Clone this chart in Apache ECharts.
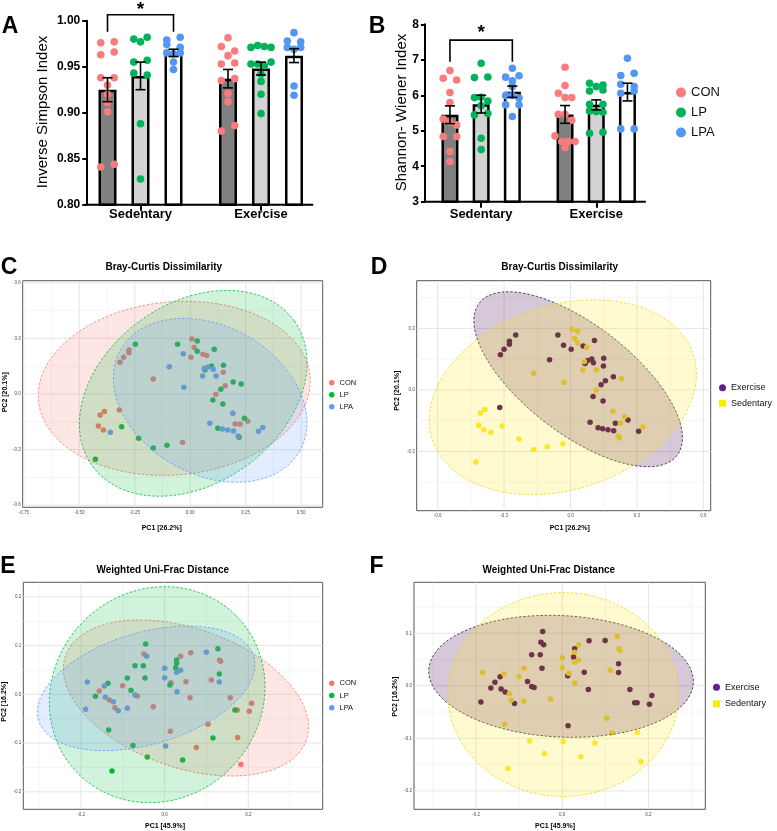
<!DOCTYPE html>
<html><head><meta charset="utf-8">
<script src="https://cdn.jsdelivr.net/npm/echarts@6/dist/echarts.min.js"></script>
<style>html,body{margin:0;padding:0;background:#fff}#c{width:777px;height:831px}</style>
</head><body><div id="c"></div>
<script>
// ================= DATA =================
const groups = ['CON', 'LP', 'LPA'];
const conditions = ['Sedentary', 'Exercise'];
const activities = ['Exercise', 'Sedentary'];

// Panel A - Inverse Simpson index
const simpsonTicks = [0.80, 0.85, 0.90, 0.95, 1.00];
const simpsonMeanSed = [0.925, 0.940, 0.965];
const simpsonMeanEx = [0.937, 0.948, 0.962];
const simpsonSemSed = [0.013, 0.015, 0.004];
const simpsonSemEx = [0.010, 0.007, 0.0075];
const simpsonSedCON = [0.976, 0.977, 0.963, 0.966, 0.938, 0.938, 0.930, 0.920, 0.911, 0.901, 0.841, 0.844];
const simpsonSedLP = [0.980, 0.977, 0.982, 0.955, 0.957, 0.943, 0.941, 0.888, 0.828];
const simpsonSedLPA = [0.979, 0.982, 0.974, 0.971, 0.965, 0.964, 0.965, 0.955, 0.947];
const simpsonExCON = [0.9815, 0.972, 0.967, 0.962, 0.953, 0.954, 0.935, 0.937, 0.921, 0.912, 0.880, 0.886];
const simpsonExLP = [0.971, 0.973, 0.972, 0.971, 0.953, 0.953, 0.951, 0.955, 0.942, 0.934, 0.920, 0.899];
const simpsonExLPA = [0.987, 0.978, 0.977, 0.971, 0.969, 0.971, 0.929, 0.919];

// Panel B - Shannon-Wiener index
const shannonTicks = [3, 4, 5, 6, 7, 8];
const shannonMeanSed = [5.45, 5.75, 6.10];
const shannonMeanEx = [5.46, 5.73, 6.09];
const shannonSemSed = [0.25, 0.25, 0.16];
const shannonSemEx = [0.25, 0.14, 0.25];
const shannonSedCON = [6.695, 6.479, 6.432, 6.075, 5.793, 5.333, 5.239, 5.164, 4.836, 4.836, 4.413, 4.131];
const shannonSedLP = [6.901, 6.498, 6.516, 5.934, 5.944, 5.840, 5.709, 5.446, 5.484, 4.789, 4.469];
const shannonSedLPA = [6.76, 6.51, 6.41, 6.55, 6.25, 5.99, 5.99, 5.92, 5.73, 5.73, 5.40];
const shannonExCON = [6.789, 6.272, 6.056, 5.934, 5.934, 5.465, 5.465, 5.296, 4.854, 4.695, 4.695, 4.695, 4.526];
const shannonExLP = [6.338, 6.244, 6.291, 6.122, 6.150, 5.746, 5.746, 5.559, 5.540, 5.521, 4.930, 4.958];
const shannonExLPA = [7.042, 6.554, 6.620, 6.310, 6.244, 6.056, 6.122, 5.052, 5.052];

// Panels C/D - Bray-Curtis PCoA (same samples, coloured by treatment / activity)
const brayPC1 = [
  0.0075, 0.018, -0.276, -0.276, -0.300, -0.3165, 0.003, 0.057, 0.0735, 0.1485, -0.1665, 0.1575, 0.1155, -0.3195, -0.387, -0.4065, 0.2025, 0.225, 0.2595, -0.414, -0.3915, -0.0345,
  0.0315, -0.057, 0.0315, 0.108, -0.2475, 0.096, 0.150, 0.066, 0.1935, 0.2295, 0.138, 0.102, 0.147, 0.1245, 0.2205, 0.2445, -0.309, -0.2325, -0.1665, -0.105, -0.4275,
  -0.0315, -0.0945, 0.063, 0.078, 0.1035, 0.0555, 0.117, -0.0285, 0.192, 0.0885, 0.1455, 0.1695, 0.195, 0.216, 0.3075, 0.327, -0.36];
const brayPC2 = [
  0.296, 0.251, 0.237, 0.223, 0.198, 0.171, 0.198, 0.214, 0.208, 0.117, 0.081, 0.045, -0.002, -0.086, -0.095, -0.113, -0.162, -0.162, -0.147, -0.172, -0.194, -0.262,
  0.286, 0.268, 0.230, 0.241, 0.268, 0.151, 0.1545, 0.129, 0.0647, 0.054, 0.025, -0.032, -0.054, -0.185, -0.2335, -0.131, -0.176, -0.239, -0.291, -0.2766, -0.352,
  0.2175, 0.147, 0.138, 0.1437, 0.133, 0.097, 0.097, 0.036, -0.104, -0.158, -0.189, -0.194, -0.1994, -0.226, -0.201, -0.181, -0.2066];
const brayGroup = [
  'CON','CON','CON','CON','CON','CON','CON','CON','CON','CON','CON','CON','CON','CON','CON','CON','CON','CON','CON','CON','CON','CON',
  'LP','LP','LP','LP','LP','LP','LP','LP','LP','LP','LP','LP','LP','LP','LP','LP','LP','LP','LP','LP','LP',
  'LPA','LPA','LPA','LPA','LPA','LPA','LPA','LPA','LPA','LPA','LPA','LPA','LPA','LPA','LPA','LPA','LPA'];
const brayActivity = [
  'Sedentary','Sedentary','Exercise','Exercise','Exercise','Exercise','Exercise','Exercise','Sedentary','Exercise','Sedentary','Exercise','Sedentary','Exercise','Sedentary','Sedentary','Exercise','Sedentary','Exercise','Sedentary','Sedentary','Sedentary',
  'Sedentary','Exercise','Sedentary','Exercise','Exercise','Exercise','Exercise','Exercise','Exercise','Sedentary','Exercise','Exercise','Exercise','Exercise','Sedentary','Sedentary','Sedentary','Sedentary','Sedentary','Sedentary','Sedentary',
  'Exercise','Exercise','Sedentary','Exercise','Exercise','Sedentary','Sedentary','Sedentary','Sedentary','Exercise','Exercise','Exercise','Exercise','Sedentary','Exercise','Sedentary','Sedentary'];
// ellipses: [centre x, centre y, semi-axis 1 (dx, dy), semi-axis 2 (dx, dy)] in PC units
const brayEllipseCON = [-0.072, 0.0305, 0.612, 0.065, 0.034, -0.465];
const brayEllipseLP = [0.0135, 0.0036, 0.456, 0.390, 0.2355, -0.395];
const brayEllipseLPA = [0.09, -0.034, 0.405, -0.271, -0.163, -0.349];
const brayEllipseExercise = [0.0345, 0.052, 0.447, -0.371, -0.1485, -0.2106];
const brayEllipseSedentary = [-0.0345, -0.0358, 0.5895, 0.2065, 0.1275, -0.4276];
const brayXTicks = [-0.75, -0.50, -0.25, 0.00, 0.25, 0.50];
const brayYTicks = [-0.6, -0.3, 0.0, 0.3, 0.6];
const brayXTicksD = [-0.6, -0.3, 0.0, 0.3, 0.6];
const brayYTicksD = [-0.3, 0.0, 0.3];

// Panels E/F - Weighted UniFrac PCoA
const unifracPC1 = [
  -0.0494, -0.1004, -0.0653, -0.1562, -0.1323, -0.1187, -0.0271, 0.0151, 0.0382, 0.051, 0.0622, 0.1315, 0.1339, 0.1116, 0.0606, 0.157, 0.0135, 0.0757, 0.1036, 0.1737, 0.1745, 0.2024, 0.208, 0.1825,
  -0.0454, -0.0709, -0.051, -0.0892, -0.047, -0.0805, -0.1355, -0.1657, -0.1339, -0.0757, -0.0414, -0.1259, 0.0127, 0.0287, 0.0287, 0.0263, 0.1275, 0.1307, 0.043, 0.1155, 0.1681,
  -0.043, -0.0709, -0.1442, -0.1849, -0.1888, -0.1418, -0.1227, -0.1108, -0.0892, 0.0, 0.0, 0.0287, 0.0382, 0.0295, 0.0996, 0.1307, 0.0024];
const unifracPC2 = [
  0.0829, 0.0178, -0.0034, 0.0068, -0.0116, -0.0274, -0.0253, 0.024, 0.0781, 0.026, 0.0856, 0.0699, 0.0678, 0.0295, -0.0068, -0.0068, -0.076, -0.1089, -0.0616, -0.0322, -0.0884, -0.0349, -0.0185, -0.1438,
  0.1034, 0.0589, 0.0589, 0.0336, 0.0336, 0.0082, 0.0226, -0.0041, -0.0733, -0.1048, -0.1288, -0.1575, 0.0192, 0.0705, 0.0637, 0.0548, 0.0938, 0.0418, -0.1349, -0.0897, -0.0322,
  0.0781, -0.0014, 0.0171, 0.0253, -0.0308, -0.0062, -0.0151, -0.0336, -0.0288, 0.0534, 0.0342, 0.0452, 0.0493, 0.0055, 0.0863, 0.0253, -0.1062];
const unifracGroup = [
  'CON','CON','CON','CON','CON','CON','CON','CON','CON','CON','CON','CON','CON','CON','CON','CON','CON','CON','CON','CON','CON','CON','CON','CON',
  'LP','LP','LP','LP','LP','LP','LP','LP','LP','LP','LP','LP','LP','LP','LP','LP','LP','LP','LP','LP','LP',
  'LPA','LPA','LPA','LPA','LPA','LPA','LPA','LPA','LPA','LPA','LPA','LPA','LPA','LPA','LPA','LPA','LPA'];
const unifracActivity = [
  'Exercise','Sedentary','Exercise','Exercise','Exercise','Sedentary','Sedentary','Sedentary','Sedentary','Exercise','Exercise','Sedentary','Sedentary','Sedentary','Exercise','Exercise','Exercise','Sedentary','Sedentary','Exercise','Sedentary','Exercise','Exercise','Sedentary',
  'Exercise','Exercise','Exercise','Sedentary','Exercise','Exercise','Sedentary','Exercise','Sedentary','Sedentary','Sedentary','Sedentary','Exercise','Exercise','Sedentary','Exercise','Sedentary','Exercise','Sedentary','Sedentary','Exercise',
  'Exercise','Exercise','Exercise','Sedentary','Exercise','Exercise','Sedentary','Exercise','Sedentary','Sedentary','Sedentary','Sedentary','Sedentary','Sedentary','Exercise','Exercise','Sedentary'];
const unifracEllipseCON = [0.051, -0.0075, 0.288, -0.0867, -0.055, -0.1347];
const unifracEllipseLP = [-0.0179, -0.0007, 0.1888, 0.1623, 0.1758, -0.1511];
const unifracEllipseLPA = [-0.0442, 0.0123, 0.2574, 0.0655, 0.0379, -0.110];
const unifracEllipseExercise = [-0.0027, 0.0181, 0.307, -0.0127, -0.0074, -0.1154];
const unifracEllipseSedentary = [0.0023, -0.0165, 0.2677, 0, 0, -0.194];
const unifracXTicks = [-0.2, 0.0, 0.2];
const unifracYTicks = [-0.2, -0.1, 0.0, 0.1, 0.2];
const unifracYTicksF = [-0.2, -0.1, 0.0, 0.1];

// ================= STYLE / LAYOUT =================
const FONT = '"Liberation Sans", Arial, Helvetica, sans-serif';
const dotColors = ['#F87C7C', '#00B259', '#5497F2'];
const barFills = ['#808080', '#D3D3D3', '#FFFFFF'];
const trtColors = ['#F8766D', '#00BA38', '#619CFF'];
const actColors = ['#440154', '#FDE725'];
const actStroke = ['#222222', '#E8D820'];
const actLegend = ['#641E8C', '#F5F000'];
const A_BAR_W = 18, A_SPACING = 33;
const B_BAR_W = 17, B_SPACING = 31.2;
const DOT_R = 3.8, STEP = 6.7, ROW_GAP = 6, CAP = 5;

const simpsonDots = [[simpsonSedCON, simpsonSedLP, simpsonSedLPA], [simpsonExCON, simpsonExLP, simpsonExLPA]];
const shannonDots = [[shannonSedCON, shannonSedLP, shannonSedLPA], [shannonExCON, shannonExLP, shannonExLPA]];

// GraphPad-like scatter: points that share a row are spread symmetrically
function swarm(ys) {
  const order = ys.map((y, i) => i).sort((a, b) => (ys[a] - ys[b]) || (a - b));
  const off = new Array(ys.length).fill(0);
  let row = [];
  const flush = () => {
    const r = row.slice().sort((a, b) => a - b);
    const n = r.length, sp = n === 2 ? 2 : 1;
    r.forEach((i, j) => { off[i] = (j - (n - 1) / 2) * sp; });
  };
  for (const i of order) {
    if (row.length && ys[i] - ys[row[0]] >= ROW_GAP) { flush(); row = []; }
    row.push(i);
  }
  if (row.length) flush();
  return off;
}

function rgba(hex, a) {
  const n = parseInt(hex.slice(1), 16);
  return 'rgba(' + (n >> 16 & 255) + ',' + (n >> 8 & 255) + ',' + (n & 255) + ',' + a + ')';
}

function barPanel(idx, meanSed, meanEx, semSed, semEx, dotsTable, barW, spacing, ticks, digits, bracket, yOffset, labelMargin) {
  const series = [];
  groups.forEach((g, gi) => {
    series.push({
      type: 'bar', name: g + ' bar', xAxisIndex: idx, yAxisIndex: idx, z: 2,
      data: [meanSed[gi], meanEx[gi]], barWidth: barW, barGap: ((spacing - barW) / barW * 100) + '%',
      itemStyle: {color: barFills[gi], borderColor: '#000', borderWidth: 2.5}, silent: true
    });
  });
  groups.forEach((g, gi) => {
    const data = [];
    [0, 1].forEach(cat => dotsTable[cat][gi].forEach((v, k) => data.push([cat, v, k])));
    series.push({
      type: 'custom', name: g, xAxisIndex: idx, yAxisIndex: idx, z: 3, silent: true,
      encode: {x: 0, y: 1}, data: data,
      itemStyle: {color: dotColors[gi]},
      renderItem: function (params, api) {
        const cat = api.value(0), val = api.value(1), k = api.value(2);
        const vals = dotsTable[cat][gi];
        const ys = vals.map(v => api.coord([cat, v])[1]);
        const offs = swarm(ys);
        const base = api.coord([cat, val]);
        return {type: 'circle', shape: {cx: base[0] + (gi - 1) * spacing + offs[k] * STEP, cy: base[1], r: DOT_R}, style: {fill: dotColors[gi]}};
      }
    });
  });
  const eb = [];
  groups.forEach((g, gi) => { eb.push([0, gi, meanSed[gi], semSed[gi]]); eb.push([1, gi, meanEx[gi], semEx[gi]]); });
  series.push({
    type: 'custom', name: 'err' + idx, xAxisIndex: idx, yAxisIndex: idx, z: 4, silent: true,
    encode: {x: 0, y: 2}, data: eb,
    renderItem: function (params, api) {
      const cat = api.value(0), gi = api.value(1), m = api.value(2), s = api.value(3);
      const x = api.coord([cat, m])[0] + (gi - 1) * spacing;
      const yT = api.coord([cat, m + s])[1], yB = api.coord([cat, m - s])[1];
      const st = {stroke: '#000', lineWidth: 1.6};
      return {type: 'group', children: [
        {type: 'line', shape: {x1: x, y1: yT, x2: x, y2: yB}, style: st},
        {type: 'line', shape: {x1: x - CAP, y1: yT, x2: x + CAP, y2: yT}, style: st},
        {type: 'line', shape: {x1: x - CAP, y1: yB, x2: x + CAP, y2: yB}, style: st}
      ]};
    }
  });
  // x axis baseline, starting at the (offset) y axis
  series.push({
    type: 'custom', name: 'base' + idx, xAxisIndex: idx, yAxisIndex: idx, z: 5, silent: true, clip: false,
    encode: {x: 0, y: 1}, data: [[0, ticks[0]]],
    renderItem: function (params, api) {
      const cs = params.coordSys;
      const y = api.coord([0, ticks[0]])[1];
      return {type: 'line', shape: {x1: cs.x - yOffset - 1, y1: y, x2: cs.x + cs.width - 8, y2: y}, style: {stroke: '#000', lineWidth: 2}};
    }
  });
  // significance bracket (CON vs LPA, sedentary)
  series.push({
    type: 'custom', name: 'sig' + idx, xAxisIndex: idx, yAxisIndex: idx, z: 4, silent: true, clip: false,
    encode: {x: 0, y: 1}, data: [[0, bracket[0]]],
    renderItem: function (params, api) {
      const c = api.coord([0, bracket[0]]);
      const xl = c[0] - spacing, xr = c[0] + spacing;
      const yLeg = api.coord([0, bracket[1]])[1], yStar = api.coord([0, bracket[2]])[1];
      return {type: 'group', children: [
        {type: 'polyline', shape: {points: [[xl, yLeg], [xl, c[1]], [xr, c[1]], [xr, yLeg]]}, style: {stroke: '#000', lineWidth: 1.6, fill: null}},
        {type: 'text', style: {text: '*', x: c[0], y: yStar, textAlign: 'center', textVerticalAlign: 'middle', font: 'bold 19px ' + FONT, fill: '#000'}}
      ]};
    }
  });
  const xAxis = {
    type: 'category', gridIndex: idx, data: conditions,
    axisLine: {show: false},
    axisTick: {show: true, alignWithLabel: true, length: 6, lineStyle: {color: '#000', width: 2}},
    axisLabel: {color: '#000', fontWeight: 'bold', fontSize: 13, margin: labelMargin, fontFamily: FONT}
  };
  const yAxis = {
    type: 'value', gridIndex: idx, min: ticks[0], max: ticks[ticks.length - 1], interval: ticks[1] - ticks[0],
    offset: yOffset,
    axisLine: {show: true, lineStyle: {color: '#000', width: 2}},
    axisTick: {show: true, length: 4, lineStyle: {color: '#000', width: 2}},
    splitLine: {show: false},
    axisLabel: {color: '#000', fontWeight: 'bold', fontSize: 12, margin: 6, fontFamily: FONT, formatter: v => v.toFixed(digits)}
  };
  return {series, xAxis, yAxis};
}

function gridValues(range, step) {
  const all = [];
  const start = Math.ceil(range[0] / step - 1e-9);
  for (let k = start; k * step <= range[1] + 1e-9; k++) all.push(+(k * step).toFixed(4));
  return all;
}

function pcoaAxis(gridIndex, range, majors, digits, isX) {
  return {
    type: 'value', gridIndex: gridIndex, min: range[0], max: range[1],
    axisLine: {show: false},
    axisTick: {show: false},
    splitLine: {show: false},
    axisLabel: {customValues: majors, formatter: v => v.toFixed(digits), fontSize: 4.5, color: '#4d4d4d', margin: isX ? 3 : 2, fontFamily: FONT}
  };
}

// background grid lines (major at labelled ticks, minor half-way)
function gridLineSeries(idx, xRange, xStep, xMajors, yRange, yStep, yMajors) {
  const isMajor = (v, majors) => majors.some(m => Math.abs(m - v) < 1e-6);
  const data = gridValues(xRange, xStep).map(v => [v, 0, isMajor(v, xMajors) ? 1 : 0])
    .concat(gridValues(yRange, yStep).map(v => [v, 1, isMajor(v, yMajors) ? 1 : 0]));
  return {
    type: 'custom', name: 'grid' + idx, xAxisIndex: idx, yAxisIndex: idx, z: 1, silent: true, clip: true,
    encode: {x: 0}, data: data,
    renderItem: function (params, api) {
      const cs = params.coordSys;
      const v = api.value(0), horiz = api.value(1), major = api.value(2);
      const style = {stroke: major ? '#e2e2e2' : '#efefef', lineWidth: major ? 0.9 : 0.6};
      if (!horiz) {
        const x = api.coord([v, 0])[0];
        return {type: 'line', shape: {x1: x, y1: cs.y, x2: x, y2: cs.y + cs.height}, style: style};
      }
      const y = api.coord([0, v])[1];
      return {type: 'line', shape: {x1: cs.x, y1: y, x2: cs.x + cs.width, y2: y}, style: style};
    }
  };
}

function ellipseSeries(idx, ell, color, stroke, alpha, name) {
  return {
    type: 'custom', name: name, xAxisIndex: idx, yAxisIndex: idx, z: 3, silent: true, clip: true,
    encode: {x: 0, y: 1}, data: [ell],
    renderItem: function (params, api) {
      const e = [0, 1, 2, 3, 4, 5].map(i => api.value(i));
      const pts = [];
      for (let i = 0; i < 120; i++) {
        const t = i / 120 * Math.PI * 2;
        pts.push(api.coord([e[0] + e[2] * Math.cos(t) + e[4] * Math.sin(t), e[1] + e[3] * Math.cos(t) + e[5] * Math.sin(t)]));
      }
      return {type: 'polygon', shape: {points: pts}, style: {fill: rgba(color, alpha), stroke: stroke, lineWidth: 0.8, lineDash: [2.5, 1.8]}};
    }
  };
}

function pointSeries(idx, pc1, pc2, keyArr, keys, colors) {
  return keys.map((key, ki) => ({
    type: 'scatter', name: key, xAxisIndex: idx, yAxisIndex: idx, z: 2, silent: true,
    symbolSize: 5.5, itemStyle: {color: colors[ki], opacity: 1},
    data: pc1.map((x, i) => [x, pc2[i], keyArr[i]]).filter(d => d[2] === key).map(d => [d[0], d[1]])
  }));
}

// ---------- build ----------
const A = barPanel(0, simpsonMeanSed, simpsonMeanEx, simpsonSemSed, simpsonSemEx, simpsonDots, A_BAR_W, A_SPACING, simpsonTicks, 2, [1.0065, 0.988, 1.0116], -6, 3);
const B = barPanel(1, shannonMeanSed, shannonMeanEx, shannonSemSed, shannonSemEx, shannonDots, B_BAR_W, B_SPACING, shannonTicks, 0, [7.555, 6.944, 7.75], -1.3, 6);

const rangeCX = [-0.755, 0.597], rangeCY = [-0.611, 0.611];
const rangeDX = [-0.6945, 0.633], rangeDY = [-0.589, 0.5325];
const rangeEX = [-0.338, 0.378], rangeEY = [-0.236, 0.230];
const rangeFX = [-0.344, 0.332], rangeFY = [-0.235, 0.197];

const series = [].concat(A.series, B.series,
  [gridLineSeries(2, rangeCX, 0.125, brayXTicks, rangeCY, 0.15, brayYTicks),
   gridLineSeries(3, rangeDX, 0.15, brayXTicksD, rangeDY, 0.15, brayYTicksD),
   gridLineSeries(4, rangeEX, 0.1, unifracXTicks, rangeEY, 0.05, unifracYTicks),
   gridLineSeries(5, rangeFX, 0.1, unifracXTicks, rangeFY, 0.05, unifracYTicksF)],
  pointSeries(2, brayPC1, brayPC2, brayGroup, groups, trtColors),
  [ellipseSeries(2, brayEllipseCON, trtColors[0], trtColors[0], 0.18, 'eC0'),
   ellipseSeries(2, brayEllipseLP, trtColors[1], trtColors[1], 0.18, 'eC1'),
   ellipseSeries(2, brayEllipseLPA, trtColors[2], trtColors[2], 0.18, 'eC2')],
  pointSeries(3, brayPC1, brayPC2, brayActivity, activities, actColors),
  [ellipseSeries(3, brayEllipseExercise, actColors[0], actStroke[0], 0.22, 'eD0'),
   ellipseSeries(3, brayEllipseSedentary, actColors[1], actStroke[1], 0.22, 'eD1')],
  pointSeries(4, unifracPC1, unifracPC2, unifracGroup, groups, trtColors),
  [ellipseSeries(4, unifracEllipseCON, trtColors[0], trtColors[0], 0.18, 'eE0'),
   ellipseSeries(4, unifracEllipseLP, trtColors[1], trtColors[1], 0.18, 'eE1'),
   ellipseSeries(4, unifracEllipseLPA, trtColors[2], trtColors[2], 0.18, 'eE2')],
  pointSeries(5, unifracPC1, unifracPC2, unifracActivity, activities, actColors),
  [ellipseSeries(5, unifracEllipseExercise, actColors[0], actStroke[0], 0.22, 'eF0'),
   ellipseSeries(5, unifracEllipseSedentary, actColors[1], actStroke[1], 0.22, 'eF1')]
);

const boxStyle = {show: true, borderColor: '#555', borderWidth: 1, backgroundColor: '#fff'};
const grid = [
  {left: 80.25, top: 20.7, width: 241, height: 184},
  {left: 423.6, top: 24.3, width: 230.2, height: 177.4},
  Object.assign({left: 22.7, top: 280.7, width: 300, height: 226.6}, boxStyle),
  Object.assign({left: 416.7, top: 280.7, width: 294, height: 230}, boxStyle),
  Object.assign({left: 23.3, top: 582.3, width: 299.4, height: 227}, boxStyle),
  Object.assign({left: 414, top: 582.3, width: 291.3, height: 227}, boxStyle)
];

const xAxis = [A.xAxis, B.xAxis,
  pcoaAxis(2, rangeCX, brayXTicks, 2, true),
  pcoaAxis(3, rangeDX, brayXTicksD, 1, true),
  pcoaAxis(4, rangeEX, unifracXTicks, 1, true),
  pcoaAxis(5, rangeFX, unifracXTicks, 1, true)];
const yAxis = [A.yAxis, B.yAxis,
  pcoaAxis(2, rangeCY, brayYTicks, 1, false),
  pcoaAxis(3, rangeDY, brayYTicksD, 1, false),
  pcoaAxis(4, rangeEY, unifracYTicks, 1, false),
  pcoaAxis(5, rangeFY, unifracYTicksF, 1, false)];

function legend(left, top, names, colors, icons, size, fontSize, lh, gap) {
  return {
    left: left, top: top, orient: 'vertical', padding: 0, itemWidth: size, itemHeight: size, itemGap: gap,
    selectedMode: false,
    textStyle: {fontSize: fontSize, lineHeight: lh, color: '#111', fontFamily: FONT},
    data: names.map((n, i) => ({name: n, icon: icons[i], itemStyle: {color: colors[i], borderWidth: 0, opacity: 1}}))
  };
}
const legendList = [
  legend(676, 86, groups, dotColors, ['circle', 'circle', 'circle'], 10, 13, 10, 7),
  legend(329, 378.7, groups, trtColors, ['circle', 'circle', 'circle'], 5.5, 7.5, 8, 4),
  legend(719, 383.3, activities, actLegend, ['circle', 'rect'], 7, 9, 8, 6.4),
  legend(329, 679.3, groups, trtColors, ['circle', 'circle', 'circle'], 5.5, 7.5, 8, 4.2),
  legend(713, 682.7, activities, actLegend, ['circle', 'rect'], 7, 9, 8, 7.6)
];

function txt(text, x, y, font, rot) {
  return {type: 'text', x: x, y: y, rotation: rot || 0, silent: true,
    style: {text: text, font: font, fill: '#000', textAlign: 'center', textVerticalAlign: 'middle'}};
}
const letterFont = 'bold 23px ' + FONT;
const titleFont = 'bold 10px ' + FONT;
const pcFont = 'bold 7px ' + FONT;
const graphic = [
  txt('A', 10, 27, letterFont), txt('B', 377, 27, letterFont),
  txt('C', 9, 268, letterFont), txt('D', 379, 268, letterFont),
  txt('E', 8, 566.5, letterFont), txt('F', 376.5, 566.5, letterFont),
  txt('Inverse Simpson Index', 42.5, 112, '15px ' + FONT, Math.PI / 2),
  txt('Shannon- Wiener Index', 401.5, 112.5, '15px ' + FONT, Math.PI / 2),
  txt('Bray-Curtis Dissimilarity', 163.8, 267.3, titleFont),
  txt('Bray-Curtis Dissimilarity', 559.7, 267.3, titleFont),
  txt('Weighted Uni-Frac Distance', 162.7, 570, titleFont),
  txt('Weighted Uni-Frac Distance', 548.8, 570, titleFont),
  txt('PC1 [26.2%]', 161.7, 528, pcFont), txt('PC1 [26.2%]', 569.7, 528, pcFont),
  txt('PC1 [45.9%]', 165, 826, pcFont), txt('PC1 [45.9%]', 555, 826, pcFont),
  txt('PC2 [20.1%]', 5, 392.3, pcFont, Math.PI / 2), txt('PC2 [20.1%]', 396.7, 390.8, pcFont, Math.PI / 2),
  txt('PC2 [16.2%]', 4, 701.7, pcFont, Math.PI / 2), txt('PC2 [16.2%]', 395, 696.7, pcFont, Math.PI / 2)
];

const chart = echarts.init(document.getElementById('c'), null, {renderer: 'canvas', width: 777, height: 831});
chart.setOption({
  animation: false,
  backgroundColor: '#ffffff',
  textStyle: {fontFamily: FONT},
  grid: grid, xAxis: xAxis, yAxis: yAxis,
  legend: legendList,
  series: series,
  graphic: graphic
});
</script></body></html>
